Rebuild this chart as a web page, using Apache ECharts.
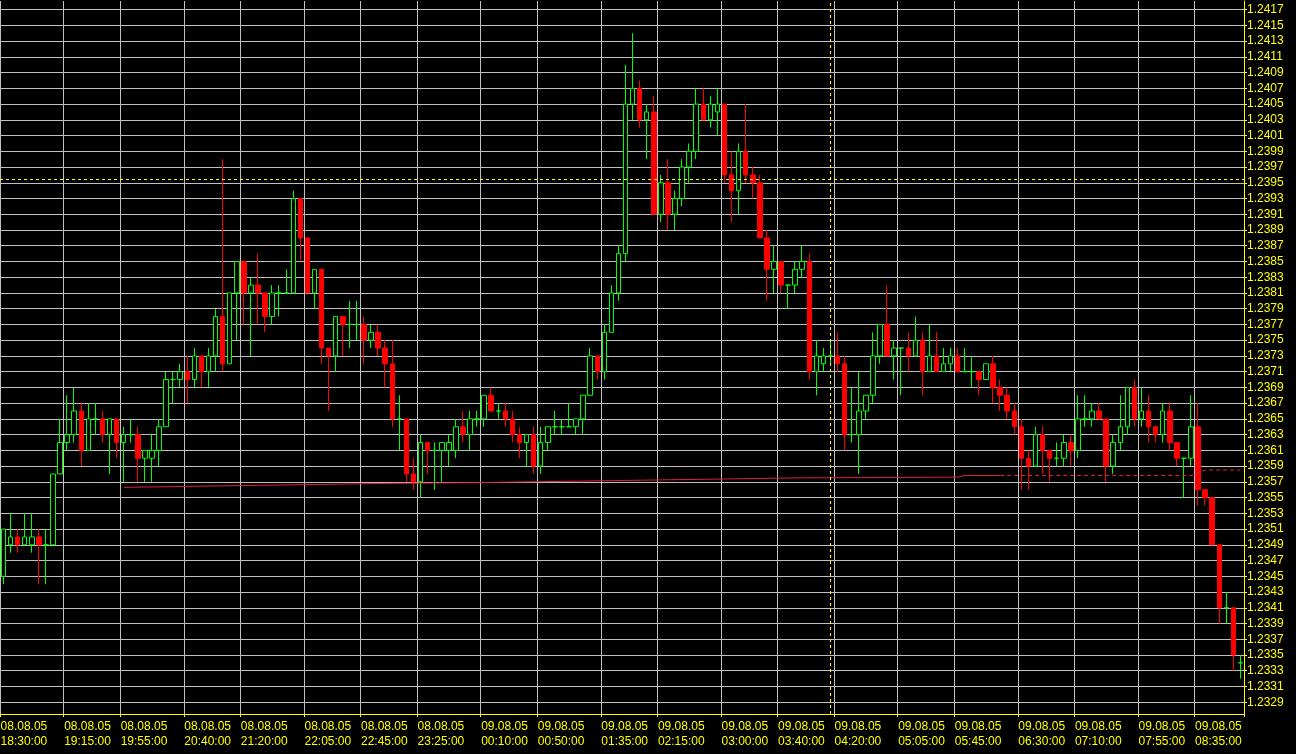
<!DOCTYPE html>
<html>
<head>
<meta charset="utf-8">
<style>
html,body{margin:0;padding:0;background:#000;}
#chart{width:1296px;height:754px;}
</style>
<script src="https://cdn.jsdelivr.net/npm/echarts@6.0.0/dist/echarts.min.js"></script>
</head>
<body>
<div id="chart"></div>
<script>
// 5-minute bars, starting 08.08.05 18:30
const barCount = 176;
const startMinutes = 18 * 60 + 30;

const openP = [
1.2345,1.2349,1.2350,1.2349,1.2349,1.2350,1.2349,1.2349,1.2358,1.2362,
1.2363,1.2366,1.2361,1.2365,1.2365,1.2363,1.2365,1.2362,1.2363,1.2363,
1.2360,1.2360,1.2361,1.2364,1.2370,1.2370,1.2371,1.2370,1.2373,1.2371,
1.2373,1.2378,1.2372,1.2381,1.2385,1.2381,1.2382,1.2381,1.2378,1.2381,
1.2381,1.2381,1.2393,1.2388,1.2381,1.2384,1.2374,1.2373,1.2378,1.2377,
1.2377,1.2377,1.2375,1.2376,1.2374,1.2372,1.2365,1.2365,1.2358,1.2357,
1.2362,1.2361,1.2361,1.2361,1.2361,1.2364,1.2363,1.2365,1.2365,1.2368,
1.2366,1.2366,1.2365,1.2363,1.2362,1.2363,1.2359,1.2362,1.2364,1.2364,
1.2364,1.2364,1.2365,1.2368,1.2373,1.2371,1.2376,1.2381,1.2386,1.2405,
1.2407,1.2403,1.2404,1.2391,1.2395,1.2391,1.2393,1.2397,1.2399,1.2405,
1.2403,1.2404,1.2405,1.2396,1.2394,1.2399,1.2396,1.2395,1.2388,1.2384,
1.2385,1.2382,1.2382,1.2384,1.2385,1.2371,1.2372,1.2373,1.2373,1.2372,
1.2363,1.2363,1.2366,1.2368,1.2373,1.2377,1.2373,1.2374,1.2374,1.2373,
1.2375,1.2371,1.2373,1.2371,1.2372,1.2373,1.2371,1.2371,1.2371,1.2370,
1.2372,1.2369,1.2368,1.2366,1.2364,1.2360,1.2359,1.2363,1.2361,1.2360,
1.2360,1.2362,1.2361,1.2365,1.2365,1.2366,1.2365,1.2359,1.2362,1.2364,
1.2369,1.2365,1.2366,1.2364,1.2363,1.2366,1.2362,1.2360,1.2360,1.2364,
1.2356,1.2355,1.2349,1.2341,1.2341,1.2334
];
const highP = [
1.2351,1.2353,1.2351,1.2353,1.2353,1.2351,1.2351,1.2358,1.2365,1.2368,
1.2369,1.2367,1.2367,1.2367,1.2366,1.2365,1.2365,1.2364,1.2365,1.2364,
1.2361,1.2363,1.2365,1.2371,1.2371,1.2372,1.2373,1.2374,1.2373,1.2374,
1.2379,1.2398,1.2381,1.2385,1.2385,1.2383,1.2386,1.2381,1.2382,1.2382,
1.2384,1.2394,1.2393,1.2388,1.2384,1.2384,1.2374,1.2378,1.2378,1.2380,
1.2380,1.2378,1.2377,1.2377,1.2375,1.2375,1.2368,1.2365,1.2360,1.2363,
1.2362,1.2362,1.2362,1.2363,1.2365,1.2366,1.2366,1.2366,1.2368,1.2369,
1.2367,1.2367,1.2366,1.2364,1.2363,1.2364,1.2364,1.2364,1.2366,1.2365,
1.2367,1.2365,1.2368,1.2374,1.2373,1.2377,1.2382,1.2387,1.2410,1.2414,
1.2408,1.2405,1.2406,1.2396,1.2398,1.2394,1.2398,1.2400,1.2407,1.2407,
1.2406,1.2407,1.2405,1.2399,1.2400,1.2405,1.2397,1.2396,1.2389,1.2387,
1.2385,1.2382,1.2385,1.2387,1.2386,1.2375,1.2374,1.2375,1.2376,1.2373,
1.2369,1.2371,1.2368,1.2376,1.2377,1.2382,1.2375,1.2374,1.2376,1.2378,
1.2376,1.2377,1.2376,1.2374,1.2374,1.2374,1.2374,1.2373,1.2371,1.2372,
1.2373,1.2370,1.2369,1.2367,1.2365,1.2361,1.2364,1.2364,1.2361,1.2362,
1.2363,1.2363,1.2368,1.2368,1.2367,1.2367,1.2365,1.2363,1.2368,1.2369,
1.2370,1.2369,1.2368,1.2364,1.2367,1.2367,1.2362,1.2360,1.2368,1.2367,
1.2356,1.2355,1.2349,1.2343,1.2341,1.2335
];
const lowP = [
1.2344,1.2348,1.2348,1.2349,1.2348,1.2344,1.2344,1.2349,1.2358,1.2361,
1.2362,1.2359,1.2361,1.2363,1.2362,1.2358,1.2360,1.2357,1.2362,1.2357,
1.2357,1.2357,1.2359,1.2364,1.2367,1.2369,1.2367,1.2369,1.2369,1.2369,
1.2371,1.2371,1.2372,1.2375,1.2377,1.2373,1.2377,1.2376,1.2377,1.2378,
1.2381,1.2381,1.2385,1.2381,1.2379,1.2372,1.2366,1.2371,1.2373,1.2374,
1.2375,1.2372,1.2374,1.2373,1.2369,1.2364,1.2361,1.2357,1.2356,1.2355,
1.2358,1.2356,1.2357,1.2359,1.2360,1.2362,1.2361,1.2364,1.2364,1.2366,
1.2365,1.2364,1.2362,1.2360,1.2359,1.2358,1.2358,1.2361,1.2363,1.2363,
1.2364,1.2363,1.2363,1.2368,1.2370,1.2370,1.2376,1.2380,1.2385,1.2403,
1.2402,1.2398,1.2391,1.2390,1.2389,1.2389,1.2392,1.2395,1.2398,1.2403,
1.2402,1.2401,1.2395,1.2390,1.2391,1.2395,1.2393,1.2388,1.2380,1.2381,
1.2381,1.2379,1.2381,1.2383,1.2370,1.2368,1.2371,1.2372,1.2371,1.2361,
1.2362,1.2358,1.2365,1.2367,1.2372,1.2373,1.2370,1.2368,1.2371,1.2373,
1.2368,1.2371,1.2371,1.2371,1.2371,1.2371,1.2371,1.2369,1.2368,1.2370,
1.2367,1.2366,1.2365,1.2363,1.2356,1.2356,1.2359,1.2358,1.2357,1.2359,
1.2359,1.2359,1.2360,1.2364,1.2364,1.2365,1.2357,1.2358,1.2361,1.2363,
1.2364,1.2364,1.2362,1.2362,1.2362,1.2361,1.2359,1.2355,1.2359,1.2354,
1.2354,1.2349,1.2339,1.2339,1.2333,1.2332
];
const closeP = [
1.2351,1.2350,1.2349,1.2350,1.2350,1.2349,1.2349,1.2358,1.2362,1.2363,
1.2366,1.2361,1.2365,1.2365,1.2363,1.2365,1.2362,1.2363,1.2363,1.2360,
1.2361,1.2361,1.2364,1.2370,1.2370,1.2371,1.2370,1.2373,1.2371,1.2373,
1.2378,1.2372,1.2381,1.2385,1.2381,1.2382,1.2381,1.2378,1.2381,1.2381,
1.2381,1.2393,1.2388,1.2381,1.2384,1.2374,1.2373,1.2378,1.2377,1.2377,
1.2377,1.2375,1.2376,1.2374,1.2372,1.2365,1.2365,1.2358,1.2357,1.2362,
1.2361,1.2361,1.2362,1.2362,1.2364,1.2363,1.2365,1.2365,1.2368,1.2366,
1.2366,1.2365,1.2363,1.2362,1.2363,1.2359,1.2362,1.2364,1.2364,1.2364,
1.2364,1.2365,1.2368,1.2373,1.2371,1.2376,1.2381,1.2386,1.2405,1.2407,
1.2403,1.2404,1.2391,1.2395,1.2391,1.2393,1.2397,1.2399,1.2405,1.2403,
1.2405,1.2405,1.2396,1.2394,1.2399,1.2396,1.2395,1.2388,1.2384,1.2385,
1.2382,1.2382,1.2384,1.2385,1.2371,1.2373,1.2373,1.2373,1.2372,1.2363,
1.2363,1.2366,1.2368,1.2373,1.2377,1.2373,1.2374,1.2374,1.2373,1.2375,
1.2371,1.2373,1.2371,1.2372,1.2373,1.2371,1.2371,1.2371,1.2370,1.2372,
1.2369,1.2368,1.2366,1.2364,1.2360,1.2359,1.2363,1.2361,1.2360,1.2360,
1.2362,1.2361,1.2365,1.2365,1.2366,1.2365,1.2359,1.2362,1.2364,1.2369,
1.2365,1.2366,1.2364,1.2363,1.2366,1.2362,1.2360,1.2360,1.2364,1.2356,
1.2355,1.2349,1.2341,1.2341,1.2335,1.2334
];

// indicator line (bar index, level)
const lineSolidPts = [[17,1.23563],[54,1.23568],[67,1.23569],[112,1.23575],[135,1.23576],[136,1.23578],[141,1.23578]];
const lineDashedPts = [[141,1.23578],[168,1.23578],[170,1.23585],[175,1.23585]];

// crosshair
const crossPrice = 1.23954;
const crossTime = '09.08.05 04:15:00';

// tick labels
const xLabelTimes = [
'08.08.05 18:30:00','08.08.05 19:15:00','08.08.05 19:55:00','08.08.05 20:40:00','08.08.05 21:20:00',
'08.08.05 22:05:00','08.08.05 22:45:00','08.08.05 23:25:00','09.08.05 00:10:00','09.08.05 00:50:00',
'09.08.05 01:35:00','09.08.05 02:15:00','09.08.05 03:00:00','09.08.05 03:40:00','09.08.05 04:20:00',
'09.08.05 05:05:00','09.08.05 05:45:00','09.08.05 06:30:00','09.08.05 07:10:00','09.08.05 07:55:00',
'09.08.05 08:35:00'
];
const yTicks = [];
for (let k = 12329; k <= 12417; k += 2) yTicks.push(k / 10000);

function pad(n){ return (n < 10 ? '0' : '') + n; }
const times = [];
for (let i = 0; i < barCount; i++) {
  const m = startMinutes + 5 * i;
  const day = m >= 1440 ? '09.08.05' : '08.08.05';
  const mm = m % 1440;
  times.push(day + ' ' + pad(Math.floor(mm / 60)) + ':' + pad(mm % 60) + ':00');
}
const ohlc = times.map((t, i) => [openP[i], closeP[i], lowP[i], highP[i]]);
function sparse(pts){
  const arr = new Array(barCount).fill(null);
  pts.forEach(p => { arr[p[0]] = p[1]; });
  return arr;
}
const labelSet = new Set(xLabelTimes);
const showIdx = (idx, val) => labelSet.has(val);

const YEL = '#ffff00';
const GRID = '#c0c0c0';
const FONT = '"Liberation Sans", Arial, sans-serif';

const chart = echarts.init(document.getElementById('chart'));
chart.setOption({
  animation: false,
  backgroundColor: '#000000',
  grid: { left: 0, right: 52, top: 1, bottom: 40, containLabel: false, outerBoundsMode: 'none' },
  xAxis: {
    type: 'category',
    data: times,
    boundaryGap: true,
    axisLine: { show: true, lineStyle: { color: YEL, width: 1 } },
    axisTick: { show: true, interval: showIdx, length: 3, lineStyle: { color: YEL } },
    axisLabel: {
      interval: showIdx, align: 'left', margin: 5, color: YEL, fontSize: 12, fontFamily: FONT,
      lineHeight: 15, padding: [0, 0, 0, -3], formatter: v => v.replace(' ', '\n'), hideOverlap: false
    },
    splitLine: { show: true, interval: showIdx, lineStyle: { color: GRID, width: 1 } }
  },
  yAxis: {
    type: 'value',
    position: 'right',
    scale: true,
    min: 1.23275,
    max: 1.24181,
    axisLine: { show: true, onZero: false, lineStyle: { color: YEL, width: 1 } },
    axisTick: { show: true, length: 3, customValues: yTicks, lineStyle: { color: YEL } },
    axisLabel: {
      customValues: yTicks, color: YEL, fontSize: 12, fontFamily: FONT, margin: 3,
      padding: [0, 0, 3, 0],
      formatter: v => Number(v).toFixed(4), showMinLabel: true, showMaxLabel: true
    },
    splitLine: { show: true, lineStyle: { color: GRID, width: 1 } }
  },
  series: [
    {
      type: 'candlestick',
      data: ohlc,
      barWidth: 5,
      itemStyle: {
        color: '#000000', color0: '#ff0000',
        borderColor: '#00ff00', borderColor0: '#ff0000', borderColorDoji: '#00ff00',
        borderWidth: 1
      },
      markLine: {
        silent: true, symbol: ['none', 'none'], animation: false, precision: 5,
        label: { show: false },
        lineStyle: { color: YEL, type: [3, 3], width: 1 },
        data: [{ yAxis: crossPrice }, { xAxis: crossTime }]
      }
    },
    {
      type: 'line', data: sparse(lineSolidPts), connectNulls: true, symbol: 'none',
      lineStyle: { color: '#e0203c', width: 1 }, z: 3, silent: true
    },
    {
      type: 'line', data: sparse(lineDashedPts), connectNulls: true, symbol: 'none',
      lineStyle: { color: '#e0203c', width: 1, type: [4, 3] }, z: 3, silent: true
    }
  ]
});
</script>
</body>
</html>
